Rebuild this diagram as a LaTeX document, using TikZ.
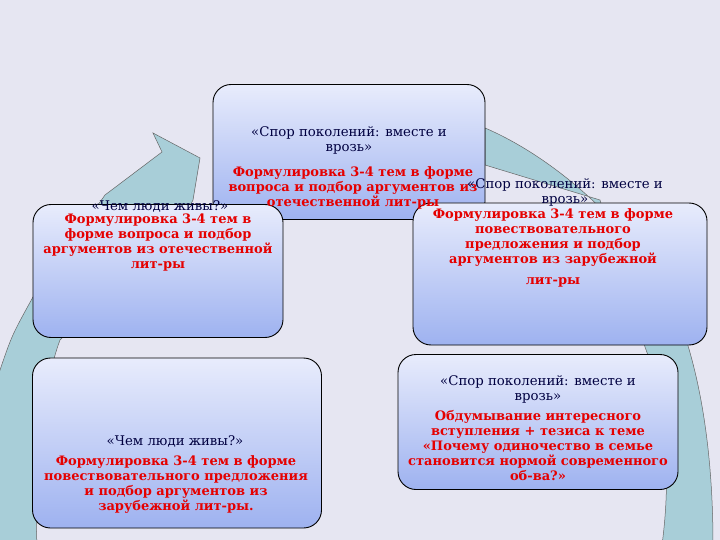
\documentclass[tikz,border=0pt]{standalone}
\usepackage{fontspec}
\setmainfont{DejaVu Serif}
\begin{document}
\begin{tikzpicture}[x=1pt,y=-1pt,
 box/.style={draw=black,line width=0.9pt,rounded corners=18pt,top color=boxtop,bottom color=boxbot},
 ttl/.style={text=blue!25!black,font=\fontsize{13.3}{15}\selectfont},
 bod/.style={text=red!90!black,font=\bfseries\fontsize{13}{15}\selectfont},
 band/.style={fill=ring,draw=black!60,line width=0.5pt}]
\definecolor{bg}{RGB}{230,230,242}
\definecolor{ring}{RGB}{168,206,216}
\definecolor{boxtop}{RGB}{232,236,252}
\definecolor{boxbot}{RGB}{158,178,240}
\fill[bg] (0,0) rectangle (720,540);
\useasboundingbox (0,0) rectangle (720,540);
\fill[band] (-10,545) -- (-10,400) -- (0,370) .. controls (12,335) .. (33,297) -- (105,195) -- (162,152) -- (153,133) -- (200,158) -- (193,200) -- (180,225)
 -- (60,340) .. controls (45,380) and (33,460) .. (37,545) -- cycle;
\fill[band] (485,128) .. controls (560,160) and (650,240) .. (683,330) .. controls (700,380) and (713,450) .. (713,545) -- (662,545) .. controls (672,470) and (665,400) .. (645,347) -- (600,200) -- (485,165) -- cycle;
\node[box,minimum width=272,minimum height=135] (t) at (349,152) {};
\node[box,minimum width=250,minimum height=133] (l) at (158,271) {};
\node[box,minimum width=294,minimum height=142] (r) at (560,274) {};
\node[box,minimum width=289,minimum height=170] (bl) at (177,443) {};
\node[box,minimum width=280,minimum height=135] (br) at (538,422) {};
\node[ttl,align=center] (tt) at (349,140) {«Спор поколений: вместе и\\врозь»};
\node[bod,align=center] (tb) at (353,188) {Формулировка 3-4 тем в форме\\вопроса и подбор аргументов из\\отечественной лит-ры};
\node[ttl] (lt) at (160,206) {«Чем люди живы?»};
\node[bod,align=center] (lb) at (158,243) {Формулировка 3-4 тем в\\форме вопроса и подбор\\аргументов из отечественной\\лит-ры};
\node[ttl,align=center] (rt) at (565,192) {«Спор поколений: вместе и\\врозь»};
\node[bod,align=center] (rb) at (553,248) {Формулировка 3-4 тем в форме\\повествовательного\\предложения и подбор\\аргументов из зарубежной\\[6pt]лит-ры};
\node[ttl] (blt) at (175,441) {«Чем люди живы?»};
\node[bod,align=center] (blb) at (176,485) {Формулировка 3-4 тем в форме\\повествовательного предложения\\и подбор аргументов из\\зарубежной лит-ры.};
\node[ttl,align=center] (brt) at (538,389) {«Спор поколений: вместе и\\врозь»};
\node[bod,align=center] (brb) at (538,446) {Обдумывание интересного\\вступления + тезиса к теме\\«Почему одиночество в семье\\становится нормой современного\\об-ва?»};
\end{tikzpicture}
\end{document}
